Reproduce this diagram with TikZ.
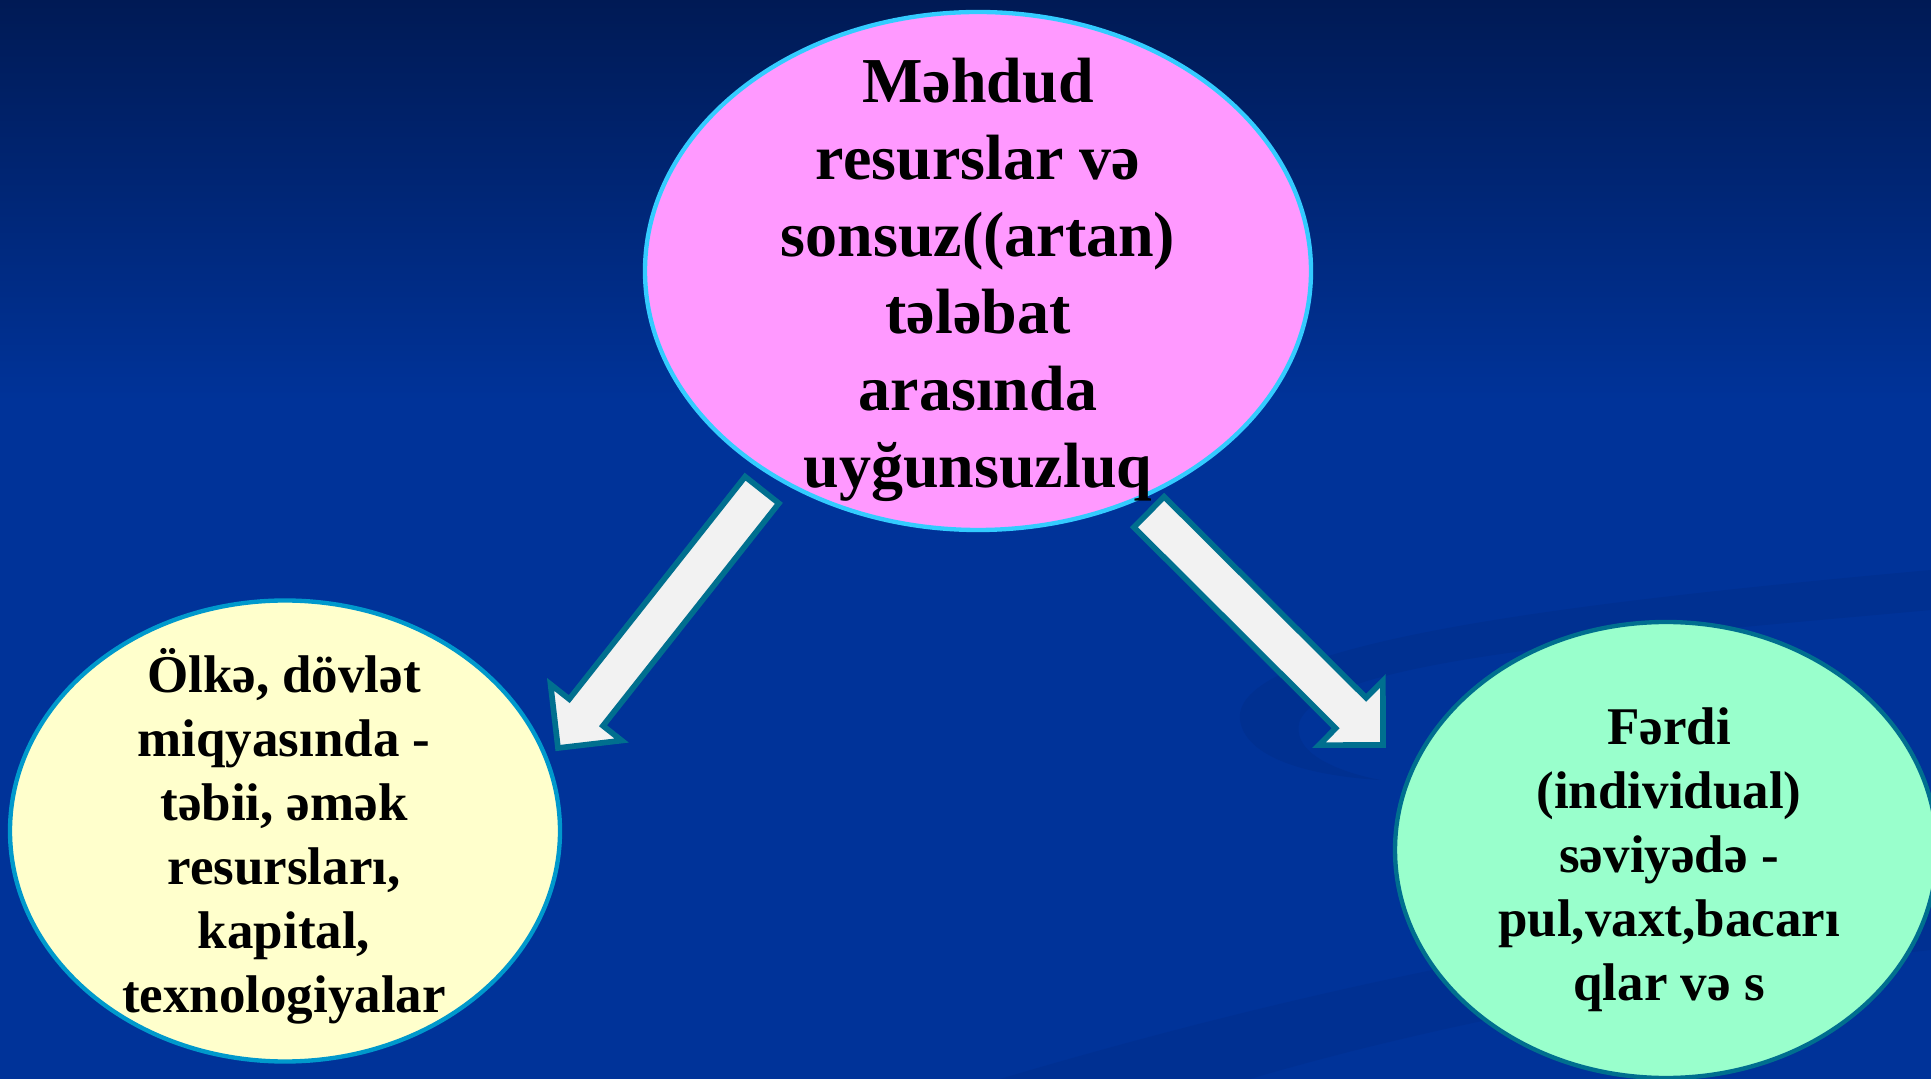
\documentclass[tikz,border=0pt]{standalone}
\usepackage{fontspec}
\setmainfont{Liberation Serif}
\usetikzlibrary{shapes.geometric,calc}
\definecolor{bgtop}{HTML}{001A55}
\definecolor{bgmain}{HTML}{003399}
\definecolor{swoosh}{HTML}{002E8C}
\definecolor{pinkfill}{HTML}{FF99FF}
\definecolor{pinkline}{HTML}{33CCFF}
\definecolor{yellowfill}{HTML}{FFFFCC}
\definecolor{yellowline}{HTML}{0099CC}
\definecolor{greenfill}{HTML}{99FFCC}
\definecolor{tealline}{HTML}{006F8F}
\definecolor{arrowfill}{HTML}{F2F2F2}
\tikzset{
  bubble/.style={ellipse, inner sep=0pt, line width=1.3pt},
  bigtext/.style={align=center, inner sep=0pt, text=black,
    font=\bfseries\fontsize{19.2}{23.1}\selectfont},
  smalltext/.style={align=center, inner sep=0pt, text=black,
    font=\bfseries\fontsize{15.9}{19.2}\selectfont},
  blockarr/.style={fill=arrowfill, draw=tealline, line width=1.7pt, line join=miter},
}
\newcommand\blockarrow[2]{%
  \draw[blockarr] let \p1=($(#2)-(#1)$), \n1={atan2(\y1,\x1)} in
    ($(#1)+(\n1+90:6.45pt)$) --
    ($(#2)+(\n1+180:13.6pt)+(\n1+90:6.45pt)$) --
    ($(#2)+(\n1+180:13.6pt)+(\n1+90:13.6pt)$) --
    (#2) --
    ($(#2)+(\n1+180:13.6pt)+(\n1-90:13.6pt)$) --
    ($(#2)+(\n1+180:13.6pt)+(\n1-90:6.45pt)$) --
    ($(#1)+(\n1-90:6.45pt)$) -- cycle;}
\begin{document}
\begin{tikzpicture}[x=0.3pt,y=-0.3pt]
\useasboundingbox (0,0) rectangle (1931,1079);
% background
\fill[bgmain] (0,0) rectangle (1931,1079);
\shade[top color=bgtop, bottom color=bgmain] (0,0) rectangle (1931,400);
% subtle swooshes
\fill[swoosh, opacity=0.6] (1240,720) .. controls (1230,640) and (1600,600) .. (1931,570)
  -- (1931,610) .. controls (1600,640) and (1330,660) .. (1300,720)
  .. controls (1290,750) and (1330,770) .. (1380,780)
  .. controls (1300,775) and (1245,755) .. (1240,720) -- cycle;
\fill[swoosh, opacity=0.5] (1000,1079) .. controls (1400,960) and (1700,920) .. (1931,890)
  -- (1931,950) .. controls (1700,975) and (1450,1020) .. (1250,1079) -- cycle;

% ellipses
\node[bubble, draw=pinkline, fill=pinkfill, minimum width=199.8pt, minimum height=155.4pt] (top) at (978,271) {};
\node[bubble, draw=yellowline, fill=yellowfill, minimum width=165pt, minimum height=138.3pt] (left) at (285,831) {};
\node[bubble, draw=tealline, fill=greenfill, minimum width=162.6pt, minimum height=136.8pt] (right) at (1666,850) {};

% texts
\node[bigtext] (toptext) at (978,280) {Məhdud\\resurslar və\\sonsuz((artan)\\tələbat\\arasında\\uyğunsuzluq};
\node[smalltext] (lefttext) at (284,836) {Ölkə, dövlət\\miqyasında -\\təbii, əmək\\resursları,\\kapital,\\texnologiyalar};
\node[smalltext] (righttext) at (1669,860) {Fərdi\\(individual)\\səviyədə -\\pul,vaxt,bacarı\\qlar və s};

% arrows
\coordinate (ltail) at (762,490);
\coordinate (ltip) at (558,748);
\coordinate (rtail) at (1149,512);
\coordinate (rtip) at (1383,745);
\blockarrow{ltail}{ltip}
\blockarrow{rtail}{rtip}
\end{tikzpicture}
\end{document}
